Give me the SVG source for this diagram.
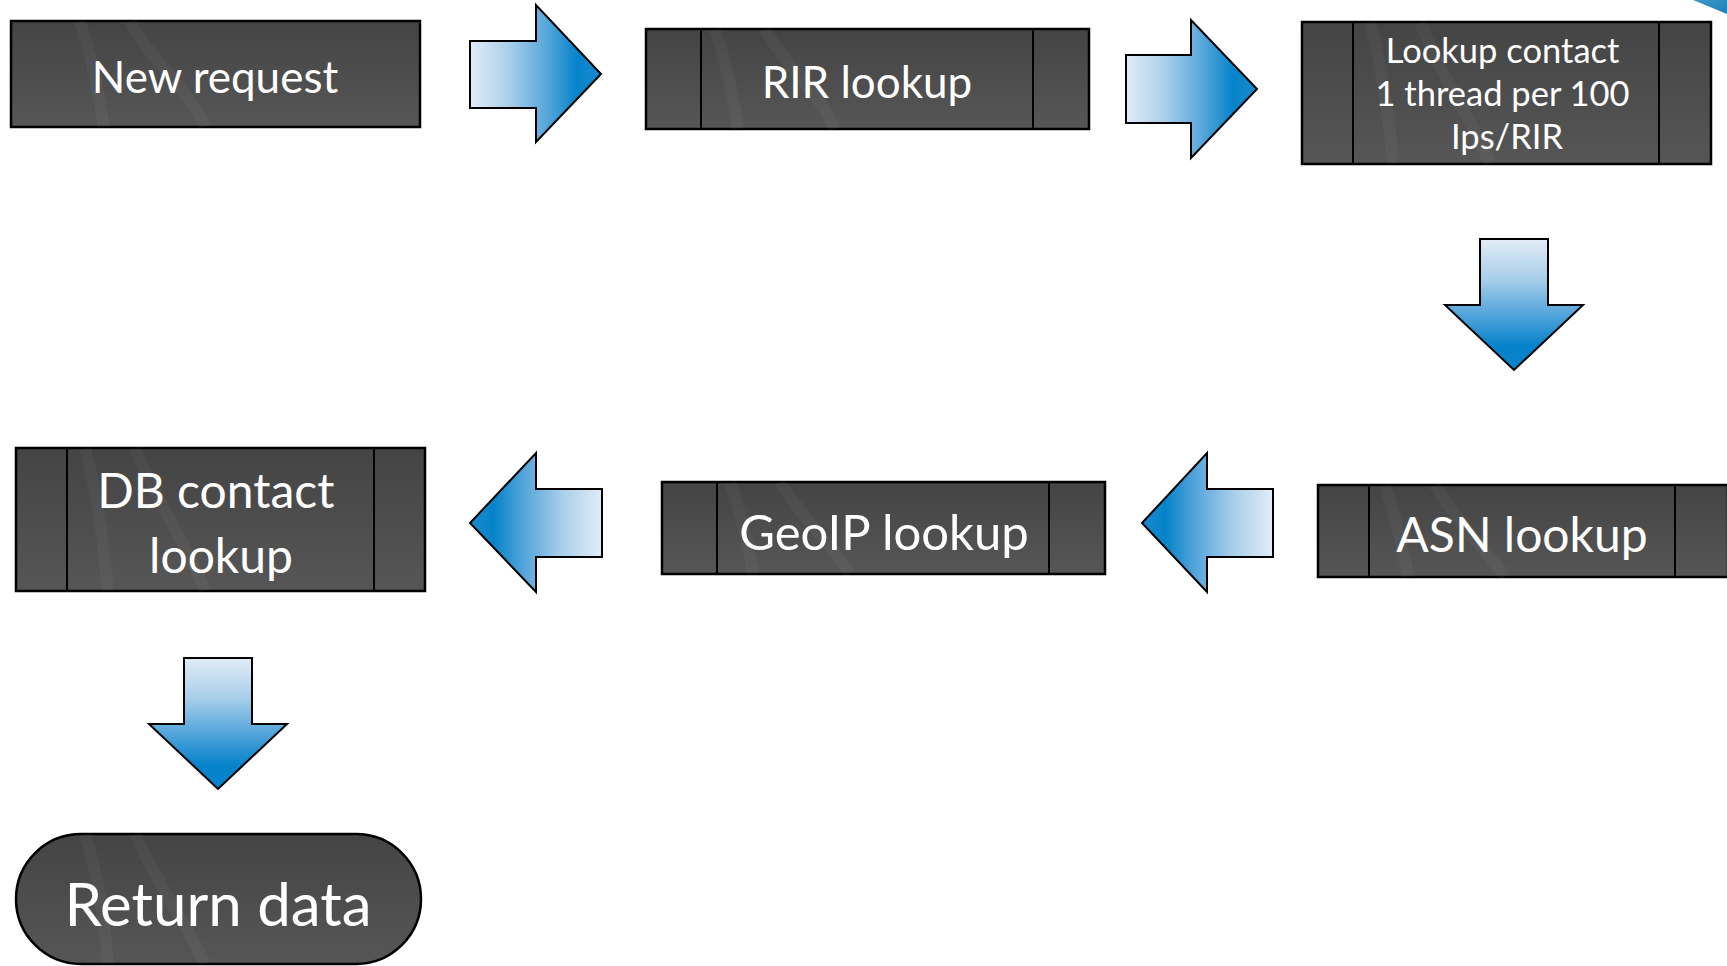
<svg xmlns="http://www.w3.org/2000/svg" width="1727" height="966" viewBox="0 0 1727 966">
  <style>
    .box { fill: url(#boxFill); stroke: #000; stroke-width: 2.5; }
    .div { stroke: #000; stroke-width: 2; fill: none; }
    .swirl { fill: none; stroke: #fff; stroke-opacity: 0.035; stroke-width: 12; }
    .arrow { stroke: #000; stroke-width: 2; stroke-linejoin: miter; }
    .lbl { font-family: Lato, "Liberation Sans", sans-serif; fill: #fff; text-anchor: middle; }
  </style>
  <defs>
    <linearGradient id="boxFill" x1="0" y1="0" x2="0" y2="1">
      <stop offset="0" stop-color="#444444"/>
      <stop offset="1" stop-color="#565656"/>
    </linearGradient>
    <linearGradient id="gradR" x1="0" y1="0" x2="1" y2="0">
      <stop offset="0" stop-color="#e3ecf7"/>
      <stop offset="0.3" stop-color="#a9cfea"/>
      <stop offset="0.57" stop-color="#5ba8dc"/>
      <stop offset="0.82" stop-color="#0683ca"/>
      <stop offset="1" stop-color="#1a8acd"/>
    </linearGradient>
    <linearGradient id="gradL" x1="1" y1="0" x2="0" y2="0">
      <stop offset="0" stop-color="#e3ecf7"/>
      <stop offset="0.3" stop-color="#a9cfea"/>
      <stop offset="0.57" stop-color="#5ba8dc"/>
      <stop offset="0.82" stop-color="#0683ca"/>
      <stop offset="1" stop-color="#1a8acd"/>
    </linearGradient>
    <linearGradient id="gradD" x1="0" y1="0" x2="0" y2="1">
      <stop offset="0" stop-color="#e3ecf7"/>
      <stop offset="0.3" stop-color="#a9cfea"/>
      <stop offset="0.6" stop-color="#4ba1d9"/>
      <stop offset="0.82" stop-color="#0582ca"/>
      <stop offset="1" stop-color="#0a84cc"/>
    </linearGradient>
    <linearGradient id="cornerFill" x1="0" y1="0" x2="1" y2="1">
      <stop offset="0" stop-color="#3b98c9"/>
      <stop offset="1" stop-color="#1f7fb6"/>
    </linearGradient>
  </defs>

  <!-- corner accent -->
  <polygon points="1693,0 1727,0 1727,14" fill="url(#cornerFill)"/>

  <!-- process nodes -->
  <g id="new-request">
    <rect class="box" x="11" y="21" width="409" height="106"/>
    <path class="swirl" d="M80,21 C95,70 100,100 104,127 M130,21 C150,60 190,90 205,127"/>
    <text class="lbl" x="215" y="93" font-size="44">New request</text>
  </g>

  <g id="rir-lookup">
    <rect class="box" x="646" y="29" width="443" height="100"/>
    <path class="swirl" d="M715,29 C730,75 735,105 738,129 M765,29 C785,65 820,95 835,129"/>
    <line class="div" x1="701" y1="29" x2="701" y2="129"/>
    <line class="div" x1="1033" y1="29" x2="1033" y2="129"/>
    <text class="lbl" x="867" y="98" font-size="44">RIR lookup</text>
  </g>

  <g id="lookup-contact">
    <rect class="box" x="1302" y="22" width="409" height="142"/>
    <path class="swirl" d="M1370,22 C1385,80 1390,130 1393,164 M1420,22 C1440,75 1475,125 1490,164"/>
    <line class="div" x1="1353" y1="22" x2="1353" y2="164"/>
    <line class="div" x1="1659" y1="22" x2="1659" y2="164"/>
    <text class="lbl" font-size="34.5">
      <tspan x="1507" y="63">Lookup contact</tspan>
      <tspan x="1507" y="106">1 thread per 100</tspan>
      <tspan x="1507" y="149">Ips/RIR</tspan>
    </text>
  </g>

  <g id="asn-lookup">
    <rect class="box" x="1318" y="485" width="410" height="92"/>
    <path class="swirl" d="M1385,485 C1400,530 1405,560 1408,577 M1435,485 C1455,520 1490,555 1505,577"/>
    <line class="div" x1="1369" y1="485" x2="1369" y2="577"/>
    <line class="div" x1="1675" y1="485" x2="1675" y2="577"/>
    <text class="lbl" x="1522" y="552" font-size="48">ASN lookup</text>
  </g>

  <g id="geoip-lookup">
    <rect class="box" x="662" y="482" width="443" height="92"/>
    <path class="swirl" d="M730,482 C745,525 750,555 753,574 M780,482 C800,515 835,550 850,574"/>
    <line class="div" x1="717" y1="482" x2="717" y2="574"/>
    <line class="div" x1="1049" y1="482" x2="1049" y2="574"/>
    <text class="lbl" x="884" y="550" font-size="49">GeoIP lookup</text>
  </g>

  <g id="db-contact-lookup">
    <rect class="box" x="16" y="448" width="409" height="143"/>
    <path class="swirl" d="M85,448 C100,505 105,555 108,591 M135,448 C155,500 190,550 205,591"/>
    <line class="div" x1="67" y1="448" x2="67" y2="591"/>
    <line class="div" x1="374" y1="448" x2="374" y2="591"/>
    <text class="lbl" font-size="48">
      <tspan x="222" y="508">DB contact</tspan>
      <tspan x="221" y="573">lookup</tspan>
    </text>
  </g>

  <g id="return-data">
    <rect class="box" x="16" y="834" width="405" height="130" rx="65" ry="65"/>
    <path class="swirl" d="M85,834 C100,880 105,930 108,964 M135,834 C155,880 190,930 205,964"/>
    <text class="lbl" x="218" y="926" font-size="60">Return data</text>
  </g>

  <!-- block arrows between steps -->
  <g id="connectors">
    <polygon class="arrow" fill="url(#gradR)" points="470,41 536,41 536,5 601,74 536,142 536,108 470,108"/>
    <polygon class="arrow" fill="url(#gradR)" points="1126,55 1191,55 1191,20 1257,89 1191,158 1191,123 1126,123"/>
    <polygon class="arrow" fill="url(#gradD)" points="1480,239 1548,239 1548,305 1583,305 1514,370 1445,305 1480,305"/>
    <polygon class="arrow" fill="url(#gradL)" points="1273,489 1207,489 1207,453 1142,523 1207,592 1207,557 1273,557"/>
    <polygon class="arrow" fill="url(#gradL)" points="602,489 536,489 536,453 470,523 536,592 536,557 602,557"/>
    <polygon class="arrow" fill="url(#gradD)" points="184,658 252,658 252,724 287,724 218,789 149,724 184,724"/>
  </g>
</svg>
